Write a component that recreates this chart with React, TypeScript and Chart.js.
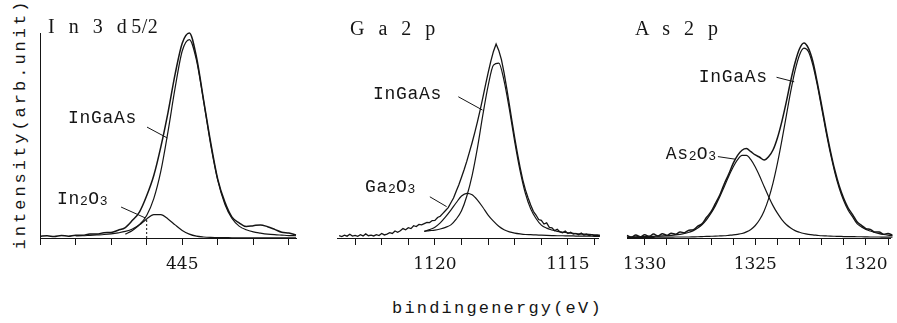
import React, { useEffect, useRef } from 'react';
import { Chart, registerables } from 'chart.js';

Chart.register(...registerables);

// ---------------- In 3d5/2 ----------------
const in3dEnergy = [449.0, 448.8, 448.6, 448.4, 448.2, 448.0, 447.8, 447.6, 447.4, 447.2, 447.0, 446.8, 446.6, 446.4, 446.2, 446.0, 445.8, 445.6, 445.4, 445.2, 445.0, 444.8, 444.6, 444.4, 444.2, 444.0, 443.8, 443.6, 443.4, 443.2, 443.0, 442.8, 442.6, 442.4, 442.2, 442.0, 441.8];
const in3dMeasured = [0.8, 1.1, 0.7, 1.2, 0.9, 1.4, 1.3, 2.0, 1.9, 2.6, 2.7, 3.8, 5.1, 8.6, 12.8, 20.6, 30.5, 44.6, 61.2, 79.9, 95.0, 100.0, 88.3, 67.4, 46.6, 28.6, 17.5, 10.2, 7.4, 5.6, 6.0, 6.4, 5.5, 4.2, 2.8, 2.4, 1.5];
const in3dInGaAs = [null, null, null, null, null, 1.0, 1.1, 1.3, 1.5, 1.7, 2.0, 2.5, 3.2, 4.4, 6.6, 11.0, 19.2, 32.7, 51.9, 73.2, 91.2, 96.8, 86.8, 66.9, 45.6, 28.1, 16.5, 9.5, 5.8, 4.0, 3.0, 2.4, 1.9, 1.6, 1.4, 1.2, 1.1];
const in3dIn2O3 = [null, null, null, null, null, null, null, null, null, null, null, null, 1.9, 3.7, 6.4, 9.3, 11.4, 11.4, 9.3, 6.4, 3.7, 1.9, 0.9, 0.5, 0.3, 0.2, 0.2, 0.1, 0.1, 0.1, 0.1, 0.1, 0.1, 0.1, 0.1, 0.1, 0.1];
const in3dTicks = [449, 448, 447, 446, 445, 444, 443, 442];
const in3dTickLabels = [445];
const in3dMarkerIndex = 15; // fit-window edge at 446 eV

// ---------------- Ga 2p ----------------
const ga2pEnergy = [1123.6, 1123.5, 1123.4, 1123.3, 1123.2, 1123.1, 1123.0, 1122.9, 1122.8, 1122.7, 1122.6, 1122.5, 1122.4, 1122.3, 1122.2, 1122.1, 1122.0, 1121.9, 1121.8, 1121.7, 1121.6, 1121.5, 1121.4, 1121.3, 1121.2, 1121.1, 1121.0, 1120.9, 1120.8, 1120.7, 1120.6, 1120.5, 1120.4, 1120.3, 1120.2, 1120.1, 1120.0, 1119.9, 1119.8, 1119.7, 1119.6, 1119.5, 1119.4, 1119.3, 1119.2, 1119.1, 1119.0, 1118.9, 1118.8, 1118.7, 1118.6, 1118.5, 1118.4, 1118.3, 1118.2, 1118.1, 1118.0, 1117.9, 1117.8, 1117.7, 1117.6, 1117.5, 1117.4, 1117.3, 1117.2, 1117.1, 1117.0, 1116.9, 1116.8, 1116.7, 1116.6, 1116.5, 1116.4, 1116.3, 1116.2, 1116.1, 1116.0, 1115.9, 1115.8, 1115.7, 1115.6, 1115.5, 1115.4, 1115.3, 1115.2, 1115.1, 1115.0, 1114.9, 1114.8, 1114.7, 1114.6, 1114.5, 1114.4, 1114.3, 1114.2, 1114.1, 1114.0, 1113.9, 1113.8];
const ga2pMeasured = [1.1, 0.7, 1.4, 0.9, 1.8, 0.9, 1.3, 0.8, 1.6, 1.0, 2.0, 1.1, 1.4, 1.0, 1.6, 1.2, 2.2, 1.5, 1.9, 2.6, 2.2, 3.4, 2.8, 3.5, 4.6, 4.0, 5.0, 4.6, 6.0, 5.6, 6.6, 6.4, 7.0, 7.6, 7.5, 8.5, 8.6, 10.0, 10.6, 12.0, 13.4, 14.8, 17.2, 19.5, 22.8, 26.0, 29.6, 33.4, 37.5, 42.0, 46.6, 51.5, 56.8, 62.4, 68.3, 74.6, 80.5, 86.2, 91.0, 94.6, 91.5, 87.0, 80.6, 73.0, 65.0, 56.8, 48.8, 41.4, 34.6, 28.5, 23.6, 19.6, 16.1, 13.0, 11.2, 9.0, 8.6, 6.8, 7.4, 5.2, 5.0, 3.6, 4.3, 3.0, 2.6, 3.4, 2.2, 2.8, 1.9, 2.2, 1.6, 2.4, 1.4, 1.8, 1.2, 1.6, 1.1, 1.4, 1.0];
const ga2pFitEnergy = [1120.4, 1120.2, 1120.0, 1119.8, 1119.6, 1119.4, 1119.2, 1119.0, 1118.8, 1118.6, 1118.4, 1118.2, 1118.0, 1117.8, 1117.6, 1117.4, 1117.2, 1117.0, 1116.8, 1116.6, 1116.4, 1116.2, 1116.0, 1115.8, 1115.6, 1115.4, 1115.2, 1115.0, 1114.8, 1114.6, 1114.4, 1114.2, 1114.0, 1113.8];
const ga2pInGaAs = [3.3, 3.6, 3.8, 4.4, 5.2, 6.4, 9.2, 13.3, 20.5, 30.6, 44.1, 59.9, 74.2, 84.3, 85.3, 76.7, 62.7, 46.9, 32.9, 21.8, 14.2, 9.5, 6.3, 4.8, 3.9, 3.2, 2.8, 2.5, 2.3, 2.0, 1.9, 1.8, 1.5, 1.4];
const ga2pGa2O3 = [3.2, 4.1, 5.3, 7.4, 10.3, 13.6, 17.2, 20.5, 21.8, 21.1, 18.5, 15.0, 11.2, 8.2, 5.7, 4.0, 3.0, 2.4, 2.0, 1.7, 1.6, 1.5, 1.4, 1.3, 1.2, 1.1, 1.1, 1.0, 1.0, 0.9, 0.9, 0.9, 0.8, 0.8];
const ga2pTicks = [1123, 1122, 1121, 1120, 1119, 1118, 1117, 1116, 1115, 1114];
const ga2pTickLabels = [1120, 1115];

// ---------------- As 2p ----------------
const as2pEnergy = [1330.8, 1330.6, 1330.4, 1330.2, 1330.0, 1329.8, 1329.6, 1329.4, 1329.2, 1329.0, 1328.8, 1328.6, 1328.4, 1328.2, 1328.0, 1327.8, 1327.6, 1327.4, 1327.2, 1327.0, 1326.8, 1326.6, 1326.4, 1326.2, 1326.0, 1325.8, 1325.6, 1325.4, 1325.2, 1325.0, 1324.8, 1324.6, 1324.4, 1324.2, 1324.0, 1323.8, 1323.6, 1323.4, 1323.2, 1323.0, 1322.8, 1322.6, 1322.4, 1322.2, 1322.0, 1321.8, 1321.6, 1321.4, 1321.2, 1321.0, 1320.8, 1320.6, 1320.4, 1320.2, 1320.0, 1319.8, 1319.6, 1319.4, 1319.2, 1319.0, 1318.8];
const as2pMeasured = [1.2, 0.4, 1.5, 0.6, 1.6, 0.8, 1.9, 1.0, 2.1, 1.3, 2.3, 1.8, 2.9, 2.6, 3.8, 4.0, 5.8, 7.0, 10.1, 12.8, 16.9, 21.1, 26.5, 31.2, 36.4, 40.3, 42.8, 43.6, 42.1, 40.5, 39.4, 38.0, 39.6, 42.9, 48.8, 56.8, 66.3, 76.6, 85.6, 92.3, 95.1, 92.6, 86.2, 76.0, 64.7, 53.0, 42.3, 32.9, 25.2, 19.2, 14.6, 11.4, 7.9, 6.2, 4.6, 4.2, 2.9, 2.9, 1.8, 2.2, 1.4];
const as2pInGaAs = [0.2, 0.25, 0.3, 0.3, 0.3, 0.35, 0.35, 0.4, 0.4, 0.4, 0.45, 0.5, 0.5, 0.5, 0.5, 0.55, 0.6, 0.7, 0.8, 0.85, 0.9, 1.0, 1.1, 1.3, 1.5, 1.8, 2.2, 3.0, 4.2, 6.1, 9.0, 13.2, 19.1, 26.8, 36.4, 47.5, 59.5, 71.4, 81.8, 89.3, 92.6, 91.0, 84.5, 74.8, 63.4, 51.8, 41.1, 31.8, 24.1, 18.1, 13.5, 10.3, 7.0, 5.4, 4.2, 3.4, 2.7, 2.1, 1.7, 1.4, 1.2];
const as2pAs2O3 = [0.5, 0.55, 0.6, 0.65, 0.7, 0.75, 0.8, 0.9, 1.0, 1.15, 1.3, 1.5, 1.8, 2.2, 2.8, 3.6, 4.9, 6.6, 9.0, 12.1, 15.8, 20.3, 25.1, 30.1, 34.6, 38.2, 40.3, 40.3, 38.2, 34.6, 30.1, 25.1, 20.3, 15.8, 12.1, 9.0, 6.6, 4.9, 3.6, 2.8, 2.2, 1.8, 1.5, 1.3, 1.1, 1.0, 0.9, 0.85, 0.8, 0.7, 0.7, 0.65, 0.6, 0.6, 0.55, 0.5, 0.5, 0.5, 0.45, 0.45, 0.4];
const as2pTicks = [1330, 1329, 1328, 1327, 1326, 1325, 1324, 1323, 1322, 1321, 1320, 1319];
const as2pTickLabels = [1330, 1325, 1320];

// ---------------- styling ----------------
const INK = '#151515';
const SUBS = '₀₁₂₃₄₅₆₇₈₉';

type Note = { text: string; at: [number, number]; leader: [number, number, number, number] };

function pts(xs: number[], ys: (number | null)[]) {
  return xs.map((x, i) => ({ x, y: ys[i] }));
}

function makeNotePlugin(notes: Note[]) {
  return {
    id: 'peakNotes',
    afterDatasetsDraw(chart: any) {
      const { ctx } = chart;
      const xs = chart.scales.x;
      const ys = chart.scales.y;
      ctx.save();
      ctx.fillStyle = INK;
      ctx.strokeStyle = INK;
      ctx.lineWidth = 1;
      ctx.textBaseline = 'middle';
      ctx.textAlign = 'left';
      for (const n of notes) {
        const [e0, v0, e1, v1] = n.leader;
        ctx.beginPath();
        ctx.moveTo(xs.getPixelForValue(e0), ys.getPixelForValue(v0));
        ctx.lineTo(xs.getPixelForValue(e1), ys.getPixelForValue(v1));
        ctx.stroke();
        let x = xs.getPixelForValue(n.at[0]);
        const y = ys.getPixelForValue(n.at[1]);
        for (const ch of Array.from(n.text)) {
          const si = SUBS.indexOf(ch);
          if (si >= 0) {
            const c = String(si);
            ctx.font = '13px "Liberation Mono"';
            ctx.fillText(c, x, y + 3);
            x += ctx.measureText(c).width + 0.3;
          } else {
            ctx.font = '18px "Liberation Mono"';
            ctx.fillText(ch, x, y);
            x += ctx.measureText(ch).width + 0.7;
          }
        }
      }
      ctx.restore();
    },
  };
}

type PanelSpec = {
  left: number;
  width: number;
  padLeft: number;
  padRight: number;
  min: number;
  max: number;
  ticks: number[];
  labels: number[];
  showY: boolean;
  datasets: any[];
  notes: Note[];
};

function buildConfig(p: PanelSpec): any {
  return {
    type: 'line',
    data: { datasets: p.datasets },
    options: {
      animation: false,
      responsive: false,
      devicePixelRatio: 1,
      layout: { padding: { left: p.padLeft, right: p.padRight, top: 33, bottom: 0 } },
      plugins: { legend: { display: false }, tooltip: { enabled: false } },
      elements: { point: { radius: 0 } },
      scales: {
        x: {
          type: 'linear',
          reverse: true,
          min: p.min,
          max: p.max,
          afterBuildTicks: (s: any) => {
            s.ticks = p.ticks.map((v) => ({ value: v }));
          },
          afterFit: (s: any) => {
            s.height = 52;
          },
          grid: { drawOnChartArea: false, drawTicks: true, tickLength: 7, color: INK, lineWidth: 1 },
          border: { display: true, color: INK, width: 1 },
          ticks: {
            autoSkip: false,
            maxRotation: 0,
            minRotation: 0,
            padding: 9,
            color: INK,
            font: { family: '"DejaVu Serif"', size: 17 },
            callback: (v: number) => (p.labels.includes(v) ? String(v) : ''),
          },
        },
        y: {
          min: 0,
          max: 100,
          display: p.showY,
          afterFit: (s: any) => {
            s.width = 0;
          },
          grid: { display: false },
          border: { display: true, color: INK, width: 1 },
          ticks: { display: false },
        },
      },
    },
    plugins: [makeNotePlugin(p.notes)],
  };
}

function line(data: any[], width: number, tension: boolean, dash?: number[]) {
  return {
    data,
    borderColor: INK,
    borderWidth: width,
    cubicInterpolationMode: tension ? 'monotone' : 'default',
    tension: 0,
    pointRadius: 0,
    fill: false,
    spanGaps: false,
    clip: 6,
    borderDash: dash || [],
  };
}

const panels: PanelSpec[] = [
  {
    left: 30,
    width: 276,
    padLeft: 10,
    padRight: 10,
    min: 441.8,
    max: 449,
    ticks: in3dTicks,
    labels: in3dTickLabels,
    showY: true,
    datasets: [
      line(pts(in3dEnergy, in3dMeasured), 1.5, true),
      line(pts(in3dEnergy, in3dInGaAs), 1.2, true),
      line(pts(in3dEnergy, in3dIn2O3), 1.2, true),
      line(
        [
          { x: in3dEnergy[in3dMarkerIndex], y: 0 },
          { x: in3dEnergy[in3dMarkerIndex], y: in3dIn2O3[in3dMarkerIndex] },
        ],
        1,
        false,
        [2, 2]
      ),
    ],
    notes: [
      { text: 'InGaAs', at: [448.21, 58.5], leader: [445.99, 54.1, 445.42, 48.8] },
      { text: 'In₂O₃', at: [448.52, 19.0], leader: [446.72, 15.1, 446.04, 9.8] },
    ],
  },
  {
    left: 307,
    width: 301,
    padLeft: 30,
    padRight: 10,
    min: 1113.87,
    max: 1123.68,
    ticks: ga2pTicks,
    labels: ga2pTickLabels,
    showY: false,
    datasets: [
      line(pts(ga2pEnergy, ga2pMeasured), 1.3, false),
      line(pts(ga2pFitEnergy, ga2pInGaAs), 1.2, true),
      line(pts(ga2pFitEnergy, ga2pGa2O3), 1.2, true),
    ],
    notes: [
      { text: 'InGaAs', at: [1122.33, 70.2], leader: [1119.12, 68.9, 1118.21, 62.4] },
      { text: 'Ga₂O₃', at: [1122.63, 24.9], leader: [1120.19, 20.1, 1119.56, 15.3] },
    ],
  },
  {
    left: 597,
    width: 300,
    padLeft: 30,
    padRight: 0,
    min: 1318.9,
    max: 1330.8,
    ticks: as2pTicks,
    labels: as2pTickLabels,
    showY: false,
    datasets: [
      line(pts(as2pEnergy, as2pMeasured), 1.5, true),
      line(pts(as2pEnergy, as2pInGaAs), 1.2, true),
      line(pts(as2pEnergy, as2pAs2O3), 1.2, true),
    ],
    notes: [
      { text: 'InGaAs', at: [1327.56, 78.3], leader: [1324.04, 78.4, 1323.24, 76.2] },
      { text: 'As₂O₃', at: [1329.05, 41.0], leader: [1326.69, 39.7, 1325.88, 38.4] },
    ],
  },
];

function Panel({ spec }: { spec: PanelSpec }) {
  const ref = useRef<HTMLCanvasElement>(null);
  useEffect(() => {
    const chart = new Chart(ref.current as HTMLCanvasElement, buildConfig(spec));
    return () => chart.destroy();
  }, [spec]);
  return (
    <canvas
      ref={ref}
      width={spec.width}
      height={290}
      style={{ position: 'absolute', left: spec.left, top: 0, width: spec.width, height: 290, display: 'block' }}
    />
  );
}

const titleStyle = (left: number, top: number): React.CSSProperties => ({
  position: 'absolute',
  left,
  top,
  font: '20px "Liberation Serif"',
  lineHeight: '20px',
  letterSpacing: '4.5px',
  whiteSpace: 'pre',
  color: INK,
});

export default function App() {
  return (
    <div
      style={{
        position: 'fixed',
        left: 0,
        top: 0,
        width: 897,
        height: 323,
        background: '#fff',
        overflow: 'hidden',
      }}
    >
      {panels.map((p, i) => (
        <Panel key={i} spec={p} />
      ))}
      <div style={titleStyle(48, 16)}>
        I n 3 d<span style={{ letterSpacing: '0.5px' }}>5/2</span>
      </div>
      <div style={titleStyle(350, 18)}>G a 2 p</div>
      <div style={titleStyle(635, 18)}>A s 2 p</div>
      <div
        style={{
          position: 'absolute',
          left: 20,
          top: 124,
          transform: 'translate(-50%, -50%) rotate(-90deg)',
          font: '17px "Liberation Mono"',
          lineHeight: '17px',
          letterSpacing: '3px',
          whiteSpace: 'nowrap',
          color: INK,
        }}
      >
        intensity(arb.unit)
      </div>
      <div
        style={{
          position: 'absolute',
          left: 392,
          top: 300,
          font: '17px "Liberation Mono"',
          lineHeight: '17px',
          letterSpacing: '2.2px',
          whiteSpace: 'nowrap',
          color: INK,
        }}
      >
        bindingenergy(eV)
      </div>
    </div>
  );
}
